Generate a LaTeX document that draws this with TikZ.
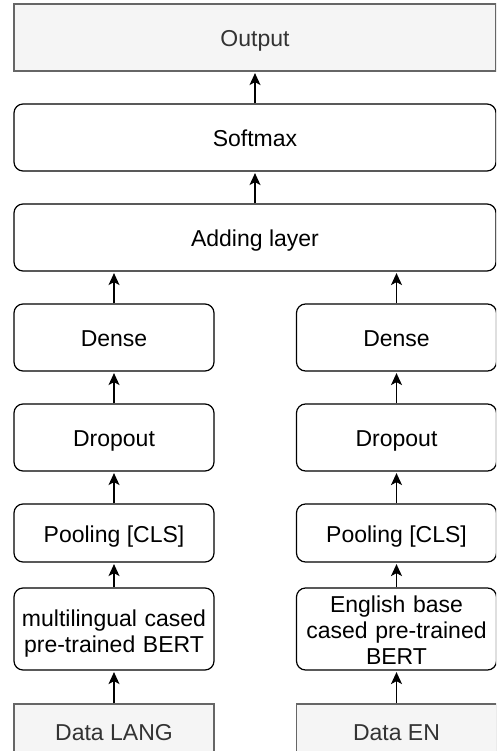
\documentclass[tikz,border=0pt]{standalone}
\usepackage{fontspec}
\setmainfont{Liberation Sans}
\usetikzlibrary{arrows.meta}
\definecolor{iofill}{HTML}{F5F5F5}
\definecolor{iodraw}{HTML}{666666}
\definecolor{iotext}{HTML}{333333}
\begin{document}
\begin{tikzpicture}[x=1pt, y=-1pt,
  boxfont/.style={font=\fontsize{23pt}{26pt}\selectfont},
  layer/.style={boxfont, draw=black, line width=1.2pt, rounded corners=9pt,
    fill=white, inner sep=0pt, align=center,
    text height=18pt, text depth=0pt},
  iobox/.style={boxfont, draw=iodraw, fill=iofill, text=iotext,
    line width=1.2pt, inner sep=0pt, align=center,
    text height=18pt, text depth=0pt},
  wide/.style={minimum width=482pt, minimum height=67pt},
  narrow/.style={minimum width=200pt, minimum height=67pt},
  link/.style={-{Stealth[length=12pt, width=11pt, inset=3pt]},
    line width=1.4pt, shorten >=1.5pt}]
\clip (0,0) rectangle (496,751);
\fill[white] (0,0) rectangle (496,751);

% shared head of the network
\node[iobox, wide] (out) at (255,37.5) {Output};
\node[layer, wide] (soft) at (255,137.5) {Softmax};
\node[layer, wide] (add) at (255,237.5) {Adding layer};

% left branch: multilingual model
\node[layer, narrow] (denseL) at (114,337.5) {Dense};
\node[layer, narrow] (dropL) at (114,437.5) {Dropout};
\node[layer, narrow, minimum height=58pt] (poolL) at (114,533) {Pooling [CLS]};
\node[layer, narrow, minimum height=82pt, text width=198pt,
  text height=18pt, text depth=24pt] (bertL) at (114,629)
  {multilingual cased\\pre-trained BERT};
\node[iobox, narrow, text height=17pt, text depth=12pt] (dataL) at (114,737.5) {Data LANG};

% right branch: English model
\node[layer, narrow] (denseR) at (396.5,337.5) {Dense};
\node[layer, narrow] (dropR) at (396.5,437.5) {Dropout};
\node[layer, narrow, minimum height=58pt] (poolR) at (396.5,533) {Pooling [CLS]};
\node[layer, narrow, minimum height=82pt, text width=198pt,
  text height=18pt, text depth=52pt] (bertR) at (396.5,629)
  {English base\\cased pre-trained\\BERT};
\node[iobox, narrow, text height=17pt, text depth=12pt] (dataR) at (396.5,737.5) {Data EN};

% connections
\draw[link] (soft) -- (out);
\draw[link] (add) -- (soft);
\draw[link] (denseL.north) -- (denseL.north |- add.south);
\draw[link] (denseR.north) -- (denseR.north |- add.south);
\draw[link] (dropL) -- (denseL);
\draw[link] (dropR) -- (denseR);
\draw[link] (poolL) -- (dropL);
\draw[link] (poolR) -- (dropR);
\draw[link] (bertL) -- (poolL);
\draw[link] (bertR) -- (poolR);
\draw[link] (dataL) -- (bertL);
\draw[link] (dataR) -- (bertR);
\end{tikzpicture}
\end{document}
